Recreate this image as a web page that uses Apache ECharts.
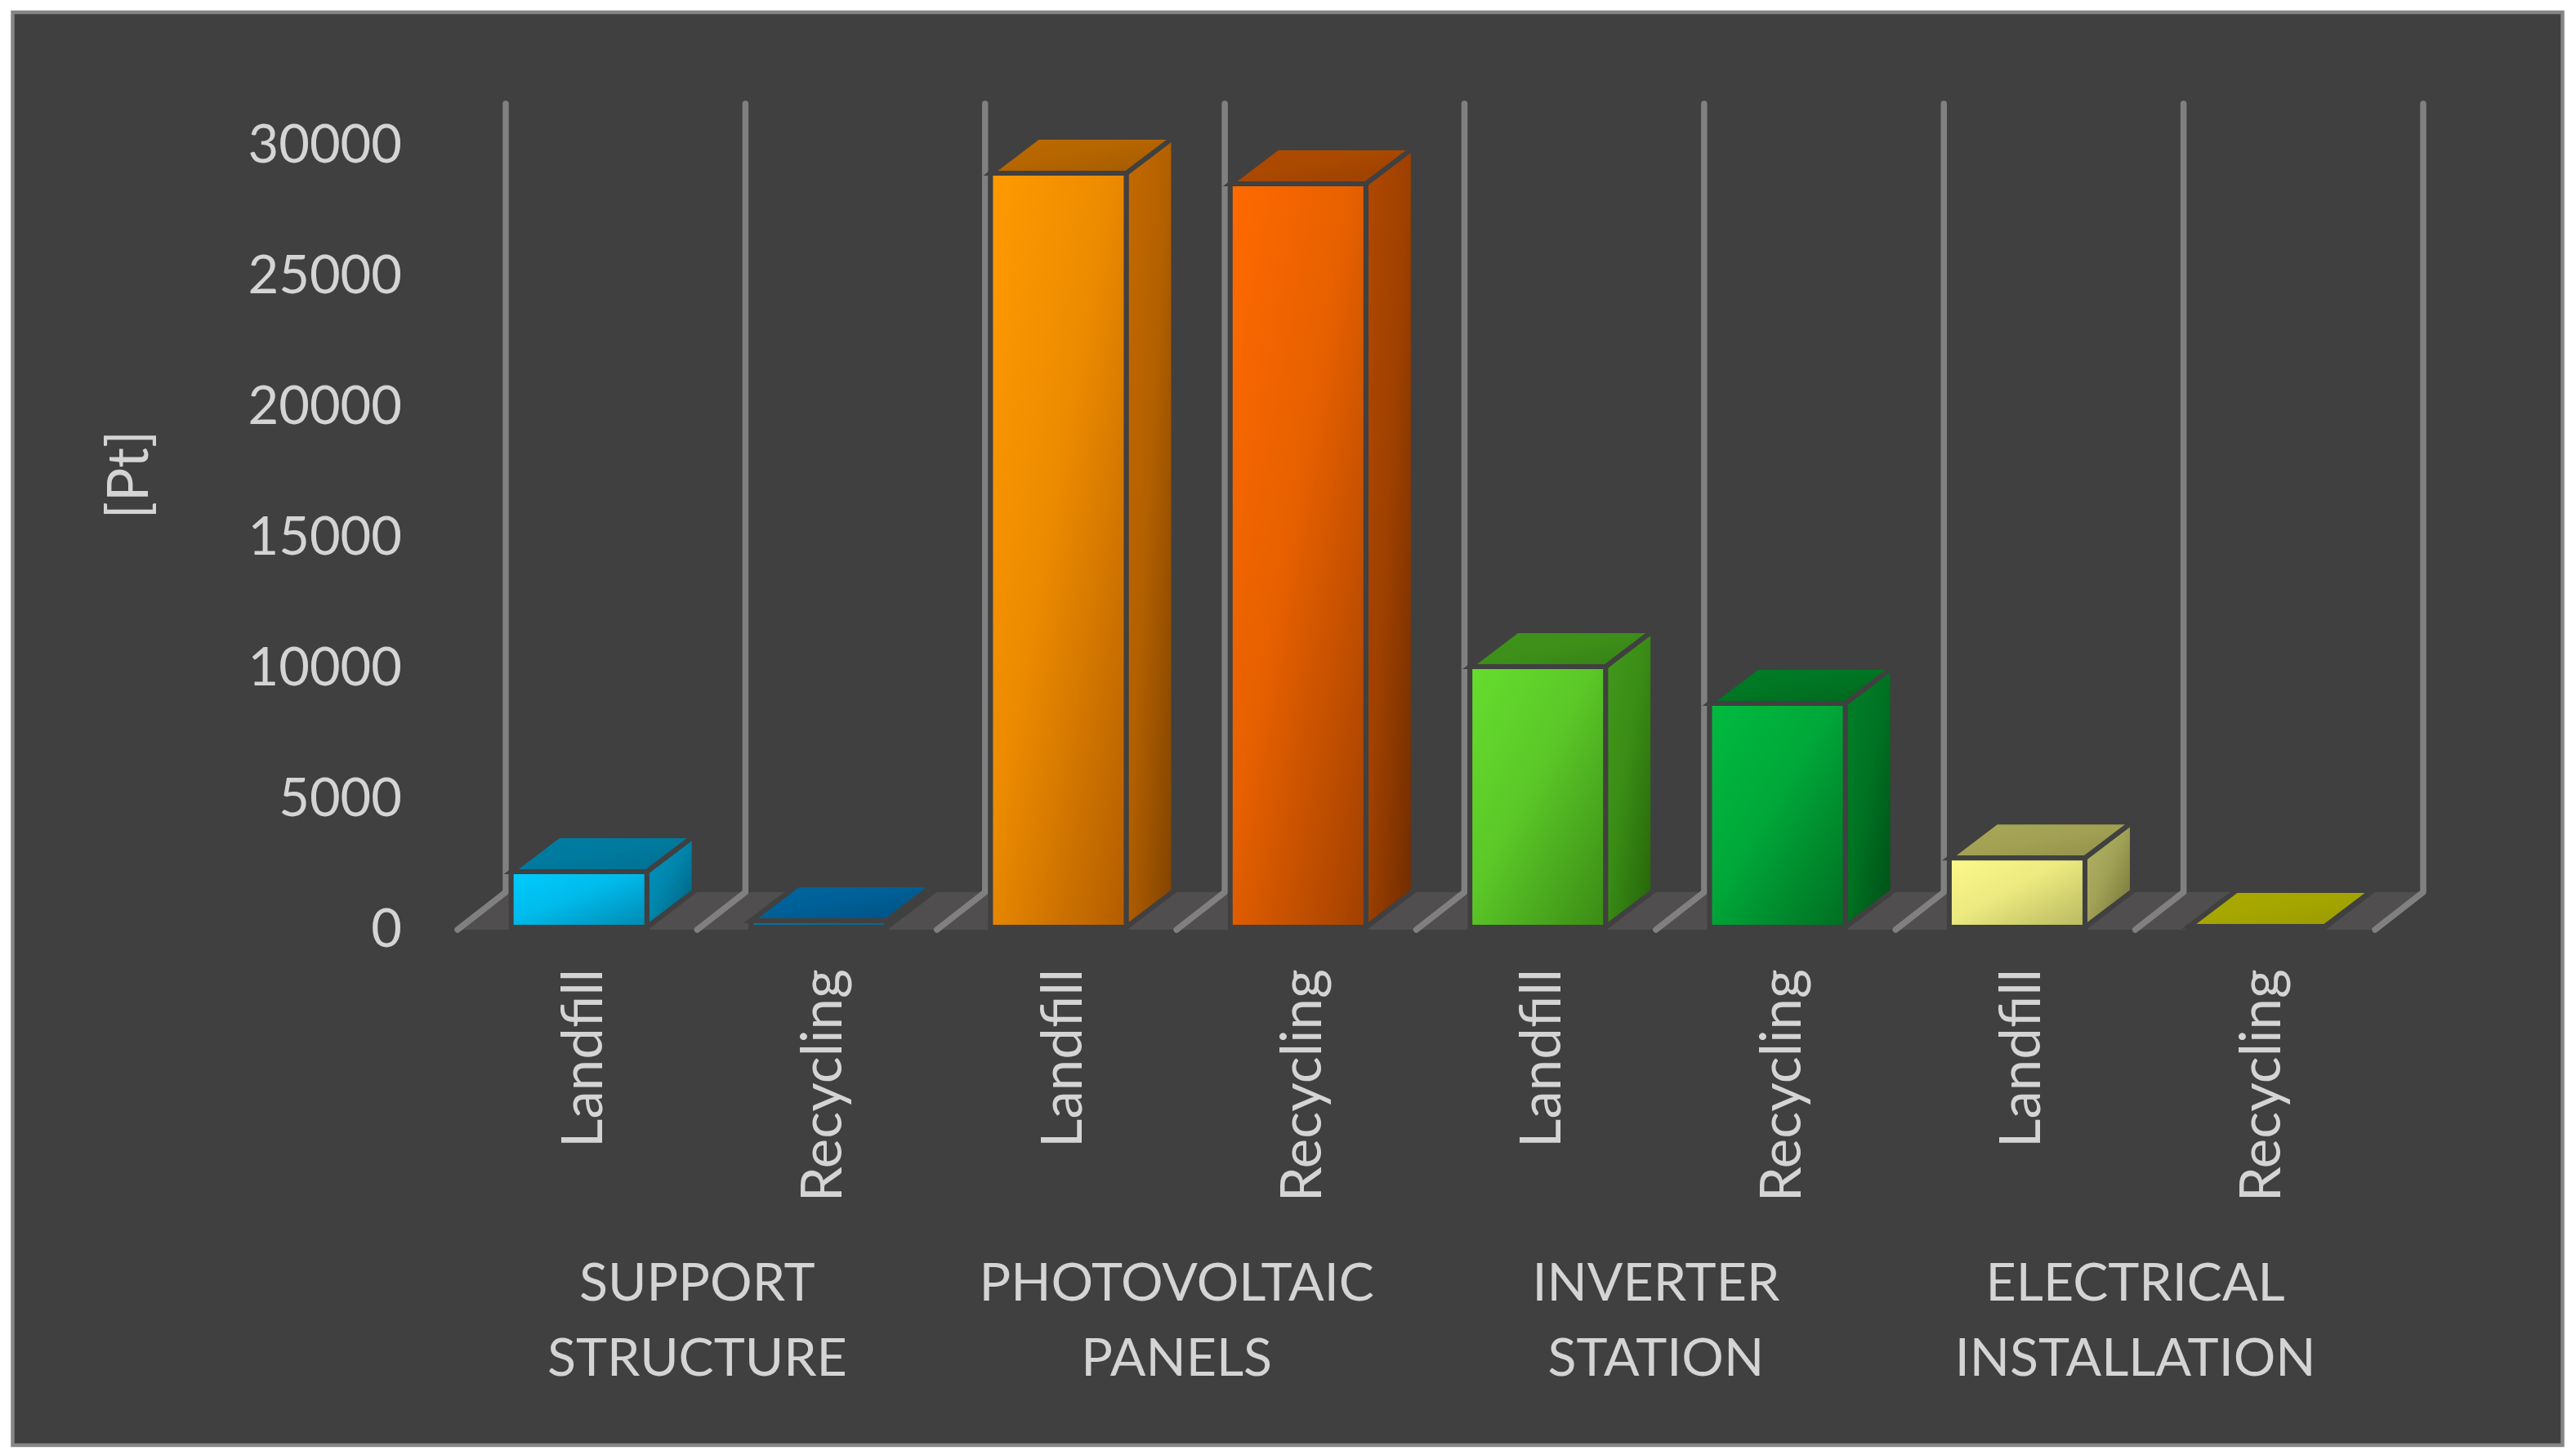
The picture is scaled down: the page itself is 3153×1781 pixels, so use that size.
<!DOCTYPE html>
<html>
<head>
<meta charset="utf-8">
<title>Landfill vs Recycling</title>
<script src="https://cdn.jsdelivr.net/npm/echarts@6/dist/echarts.min.js"></script>
<style>
  html, body { margin: 0; padding: 0; background: #fff; }
  #chart { width: 3153px; height: 1781px; }
</style>
</head>
<body>
<div id="chart"></div>
<script>
// data
const scenarios = ['Landfill', 'Recycling', 'Landfill', 'Recycling', 'Landfill', 'Recycling', 'Landfill', 'Recycling'];
const groups = ['SUPPORT\nSTRUCTURE', 'PHOTOVOLTAIC\nPANELS', 'INVERTER\nSTATION', 'ELECTRICAL\nINSTALLATION'];
const values = [2125, 250, 28840, 28440, 9970, 8560, 2650, 30];
const yTicks = [0, 5000, 10000, 15000, 20000, 25000, 30000];

// [front start, front end, top start, top end, side start, side end]
const barColors = [
  ['#00ccff', '#0088b0', '#007ea3', '#006f90', '#0094bf', '#005a75'],
  ['#0077a8', '#005f88', '#00669f', '#004f80', '#00608a', '#00557f'],
  ['#ff9a00', '#b25c00', '#bd6a00', '#a25900', '#c46a00', '#7f4200'],
  ['#ff6a00', '#a04000', '#b04c00', '#983e00', '#b04800', '#6f2c00'],
  ['#66dd2e', '#3a8a14', '#3f951a', '#367f16', '#419a1a', '#246208'],
  ['#00bb40', '#006e22', '#007d26', '#00641e', '#008028', '#004d14'],
  ['#fdfa8a', '#b8b860', '#a9a858', '#8f8f48', '#b5b565', '#6e6e32'],
  ['#a8a800', '#989800', '#aaaa00', '#989800', '#a8a800', '#989800']
];

const BG = '#404040';
const TEXT = '#d4d4d4';
const FONT = 'Lato';
const DEPTH_X = 58;
const DEPTH_Y = 44;

// corner to corner gradient on a box, the bands run along the other diagonal
function grad(x, y, w, h, a, b) {
  const s = 2 * w * h / (w * w + h * h);
  return {
    type: 'linear',
    global: true,
    x: x,
    y: y,
    x2: x + s * h,
    y2: y + s * w,
    colorStops: [
      { offset: 0, color: a },
      { offset: 0.45, color: echarts.color.lerp(0.25, [a, b]) },
      { offset: 1, color: b }
    ]
  };
}

// floor and the "gridlines" that step back from the front edge
function renderWall(params, api) {
  const i = api.value(0);
  const base = api.coord([i, 0]);
  const top = api.coord([i, yTicks[yTicks.length - 1]]);
  const w = api.size([1, 0])[0];
  const frontY = base[1] + 3;
  const backY = base[1] - 43;
  const topY = top[1] - 48;
  const left = base[0] - w / 2;
  const right = base[0] + w / 2;
  const dx = 59;
  const line = { stroke: '#808080', lineWidth: 7.5, lineCap: 'round', lineJoin: 'round', fill: null };
  const children = [
    {
      type: 'polygon',
      shape: { points: [[left, frontY], [left + dx, backY], [right + dx + 1, backY], [right + 1, frontY]] },
      style: { fill: '#504e4f' }
    }
  ];
  const edges = params.dataIndex === scenarios.length - 1 ? [left, right] : [left];
  edges.forEach(function (x) {
    children.push({
      type: 'polyline',
      z2: 2,
      shape: { points: [[x, frontY], [x + dx, backY], [x + dx, topY]] },
      style: line
    });
  });
  return { type: 'group', children: children };
}

function renderBar(params, api) {
  const i = api.value(0);
  const p0 = api.coord([i, 0]);
  const p1 = api.coord([i, api.value(1)]);
  const w = api.size([1, 0])[0] * 0.566;
  const c = barColors[params.dataIndex];
  const x0 = p0[0] + 2 - w / 2;
  const x1 = x0 + w;
  const y0 = p0[1];
  const y1 = p1[1];
  const h = y0 - y1;
  const edge = { stroke: BG, lineWidth: 6, lineJoin: 'miter' };
  return {
    type: 'group',
    children: [
      {
        type: 'polygon',
        shape: { points: [[x1, y0], [x1 + DEPTH_X, y0 - DEPTH_Y], [x1 + DEPTH_X, y1 - DEPTH_Y], [x1, y1]] },
        style: Object.assign({ fill: grad(x1, y1 - DEPTH_Y, DEPTH_X, h + DEPTH_Y, c[4], c[5]) }, edge)
      },
      {
        type: 'polygon',
        shape: { points: [[x0, y1], [x1, y1], [x1 + DEPTH_X, y1 - DEPTH_Y], [x0 + DEPTH_X, y1 - DEPTH_Y]] },
        style: Object.assign({ fill: grad(x0, y1 - DEPTH_Y, w + DEPTH_X, DEPTH_Y, c[2], c[3]) }, edge)
      },
      {
        type: 'polygon',
        shape: { points: [[x0, y0], [x1, y0], [x1, y1], [x0, y1]] },
        style: Object.assign({ fill: grad(x0, y1, w, h, c[0], c[1]) }, edge)
      }
    ]
  };
}

const chart = echarts.init(document.getElementById('chart'));

const option = {
  animation: false,
  backgroundColor: '#ffffff',
  textStyle: { fontFamily: FONT },
  graphic: [
    {
      type: 'rect',
      z: -10,
      shape: { x: 15.5, y: 15, width: 3121, height: 1754 },
      style: { fill: BG, stroke: '#868686', lineWidth: 4.5 }
    },
    {
      type: 'text',
      x: 159,
      y: 581,
      rotation: Math.PI / 2,
      style: { text: '[Pt]', fill: TEXT, font: '69px ' + FONT, align: 'center', verticalAlign: 'middle' }
    }
  ],
  grid: { left: 560, top: 175, width: 2347, height: 960, containLabel: false },
  xAxis: [
    {
      type: 'category',
      data: scenarios,
      axisLine: { show: false },
      axisTick: { show: false },
      // small lineHeight with top align nudges the text off the category centre
      axisLabel: { interval: 0, rotate: 90, margin: 51, verticalAlign: 'top', lineHeight: 16, color: TEXT, fontSize: 69, fontFamily: FONT }
    },
    {
      type: 'category',
      data: groups,
      position: 'bottom',
      offset: 390,
      axisLine: { show: false },
      axisTick: { show: false },
      axisLabel: { interval: 0, margin: 0, color: TEXT, fontSize: 64.5, lineHeight: 92, fontFamily: FONT }
    }
  ],
  yAxis: {
    type: 'value',
    min: 0,
    max: 30000,
    interval: 5000,
    axisLine: { show: false },
    axisTick: { show: false },
    splitLine: { show: false },
    axisLabel: {
      margin: 68,
      verticalAlign: 'top',
      lineHeight: 7,
      color: TEXT,
      fontSize: 65,
      fontFamily: FONT,
      formatter: function (v) { return String(v); }
    }
  },
  series: [
    {
      name: 'wall',
      type: 'custom',
      z: 1,
      renderItem: renderWall,
      data: scenarios.map(function (s, i) { return [i, 0]; }),
      silent: true
    },
    {
      name: 'value',
      type: 'custom',
      z: 2,
      renderItem: renderBar,
      data: values.map(function (v, i) { return [i, v]; }),
      encode: { x: 0, y: 1 }
    }
  ]
};

chart.setOption(option);
</script>
</body>
</html>
